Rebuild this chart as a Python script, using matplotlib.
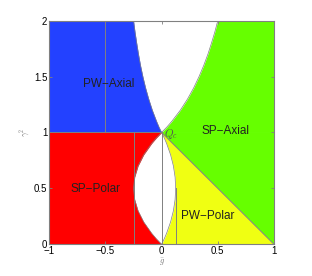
import matplotlib
matplotlib.use("Agg")
import matplotlib.pyplot as plt
import numpy as np

plt.rcParams['font.family'] = ['Liberation Sans', 'DejaVu Sans']
plt.rcParams['mathtext.fontset'] = 'cm'

# boundary curves
y_upper = [1.0, 1.05, 1.1, 1.2, 1.3, 1.4, 1.5, 1.6, 1.7, 1.8, 1.9, 2.0]
x_upper_left = [0.0, -0.024, -0.045, -0.083, -0.115, -0.143, -0.167, -0.188, -0.206, -0.222, -0.237, -0.25]
x_upper_right = [0.0, 0.048, 0.091, 0.167, 0.231, 0.286, 0.333, 0.375, 0.412, 0.444, 0.474, 0.5]

y_lower = [0.0, 0.05, 0.1, 0.2, 0.3, 0.4, 0.5, 0.6, 0.7, 0.8, 0.9, 0.95, 1.0]
x_lower_left = [0.0, -0.048, -0.09, -0.16, -0.21, -0.24, -0.25, -0.24, -0.21, -0.16, -0.09, -0.048, 0.0]
x_lower_right = [0.0, 0.024, 0.045, 0.08, 0.105, 0.12, 0.125, 0.12, 0.105, 0.08, 0.045, 0.024, 0.0]
x_diagonal = [1.0, 0.95, 0.9, 0.8, 0.7, 0.6, 0.5, 0.4, 0.3, 0.2, 0.1, 0.05, 0.0]

region_labels = ["PW\u2212Axial", "SP\u2212Axial", "SP\u2212Polar", "PW\u2212Polar"]
label_x = [-0.47, 0.57, -0.59, 0.41]
label_y = [1.43, 1.01, 0.49, 0.25]

x_ticks = [-1, -0.5, 0, 0.5, 1]
x_ticklabels = ["\u22121", "\u22120.5", "0", "0.5", "1"]
y_ticks = [0, 0.5, 1, 1.5, 2]
y_ticklabels = ["0", "0.5", "1", "1.5", "2"]

blue = '#2341ff'
green = '#66ff00'
red = '#ff0000'
yellow = '#f0ff12'
gray = '#808080'

fig = plt.figure(figsize=(3.12, 2.76), dpi=100)
ax = fig.add_axes([0.158, 0.115, 0.72, 0.81])

ax.fill_betweenx(y_upper, -1, x_upper_left, color=blue, lw=0)
ax.fill_betweenx(y_upper, x_upper_right, 1, color=green, lw=0)
ax.fill_betweenx(y_lower, x_diagonal, 1, color=green, lw=0)
ax.fill_betweenx(y_lower, -1, x_lower_left, color=red, lw=0)
ax.fill_betweenx(y_lower, x_lower_right, x_diagonal, color=yellow, lw=0)

lw = 0.7
ax.plot(x_upper_left, y_upper, color=gray, lw=0.5)
ax.plot(x_upper_right, y_upper, color=gray, lw=0.5)
ax.plot(x_lower_left, y_lower, color=gray, lw=0.5)
ax.plot(x_lower_right, y_lower, color=gray, lw=0.5)
ax.plot(x_diagonal, y_lower, color=gray, lw=lw)
ax.plot([-1, 0], [1, 1], color=gray, lw=lw)
ax.plot([0, 0], [0, 1], color=gray, lw=lw)
ax.plot([-0.25, -0.25], [0, 1], color=gray, lw=lw)
ax.plot([0.125, 0.125], [0, 0.5], color=gray, lw=lw)
ax.plot([-0.5, -0.5], [1, 2], color=gray, lw=lw)

for t, x, y in zip(region_labels, label_x, label_y):
    ax.text(x, y, t, ha='center', va='center', fontsize=8.5, color='#222222')
ax.text(0.02, 0.99, r'$Q_c$', ha='left', va='center', fontsize=8, color='#555555')

ax.set_xlim(-1, 1)
ax.set_ylim(0, 2)
ax.set_xticks(x_ticks)
ax.set_xticklabels(x_ticklabels)
ax.set_yticks(y_ticks)
ax.set_yticklabels(y_ticklabels)
ax.tick_params(direction='in', length=2.5, width=0.6, color=gray, labelsize=7, pad=1.5,
               top=True, right=True)
for s in ax.spines.values():
    s.set_color(gray)
    s.set_linewidth(0.8)

ax.set_xlabel(r'$\bar{g}$', fontsize=6, color='#777777', labelpad=0)
ax.set_ylabel(r'$\gamma^2$', fontsize=6, color='#777777', labelpad=1)

fig.savefig('out.png', dpi=100)
